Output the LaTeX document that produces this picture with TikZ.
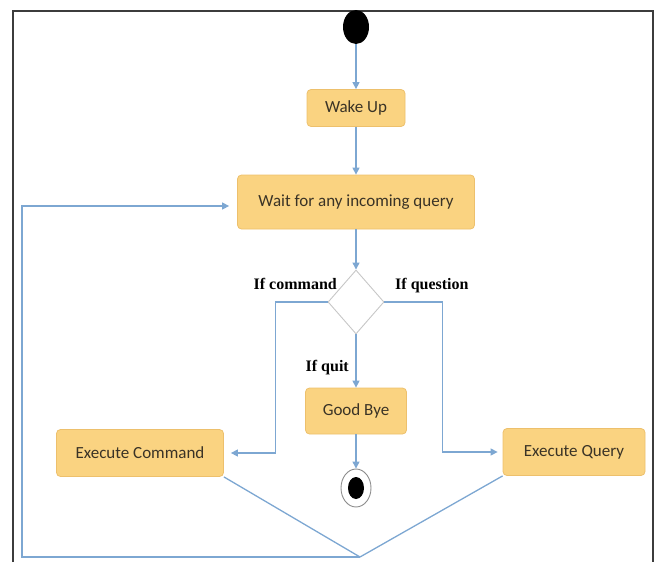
\documentclass[tikz,border=0pt]{standalone}
\usepackage{fontspec}
\setmainfont{Carlito}
\newfontfamily\labfont{Liberation Serif}
\usetikzlibrary{shapes.geometric,arrows.meta}
\definecolor{boxfill}{HTML}{FAD381}
\definecolor{boxline}{HTML}{EDC06C}
\definecolor{conn}{HTML}{7DA7D2}
\definecolor{txt}{HTML}{3A3326}
\definecolor{frame}{HTML}{3C3C3C}
\tikzset{
  actbox/.style={draw=boxline, fill=boxfill, rounded corners=4pt, line width=0.8pt,
    inner sep=0pt, text=txt, font=\fontsize{17}{20}\selectfont},
  conline/.style={draw=conn, line width=1.3pt},
  arr/.style={conline, -{Triangle[length=7pt,width=7pt]}},
  cond/.style={font=\labfont\bfseries\fontsize{16}{19}\selectfont, text=black, inner sep=0pt},
}
\begin{document}
\begin{tikzpicture}[x=1pt,y=-1pt]
\useasboundingbox (0,0) rectangle (660,562);
% frame
\draw[frame, line width=1.6pt] (13,562) -- (13,11) -- (653,11) -- (653,562);
% nodes
\node[ellipse, fill=black, minimum width=26pt, minimum height=34pt, inner sep=0pt] (start) at (356,27) {};
\node[actbox, minimum width=98pt, minimum height=37pt] (wake) at (356,108) {Wake Up};
\node[actbox, minimum width=237pt, minimum height=54pt] (wait) at (356,202) {Wait for any incoming query};
\node[diamond, draw=black!22, fill=white, line width=0.9pt, minimum width=56pt, minimum height=64pt, inner sep=0pt] (dia) at (356,302) {};
\node[actbox, minimum width=101pt, minimum height=46pt] (bye) at (356,411) {Good Bye};
\node[actbox, minimum width=167pt, minimum height=47pt] (cmd) at (140,453) {Execute Command};
\node[actbox, minimum width=142pt, minimum height=47pt] (qry) at (574,452) {Execute Query};
\node[ellipse, draw=black!45, fill=white, line width=0.9pt, minimum width=30pt, minimum height=38pt, inner sep=0pt] (endc) at (356,488) {};
\node[ellipse, fill=black, minimum width=16pt, minimum height=22pt, inner sep=0pt] (endin) at (endc.center) {};
% labels
\node[cond, anchor=base east] (lcmd) at (337,289) {If command};
\node[cond, anchor=base west] (lqst) at (395,289) {If question};
\node[cond, anchor=base east] (lquit) at (349,371) {If quit};
\coordinate (apex) at (360,557);
% connectors
\draw[arr] (start) -- (wake);
\draw[arr] (wake) -- (wait);
\draw[arr] (wait) -- (dia.north);
\draw[arr, shorten >=7pt] (dia.west) -- ++(-52,0) |- (cmd.east);
\draw[arr, shorten >=5pt] (dia.east) -- ++(58,0) |- (qry.west);
\draw[arr] (dia.south) -- (bye.north);
\draw[arr] (bye.south) -- (endc.north);
\draw[conline] (cmd.south east) -- (apex);
\draw[conline] (qry.south west) -- (apex);
\draw[arr, shorten >=8pt] (apex) -- (22,557) |- ([yshift=-4pt]wait.west);
\end{tikzpicture}
\end{document}
